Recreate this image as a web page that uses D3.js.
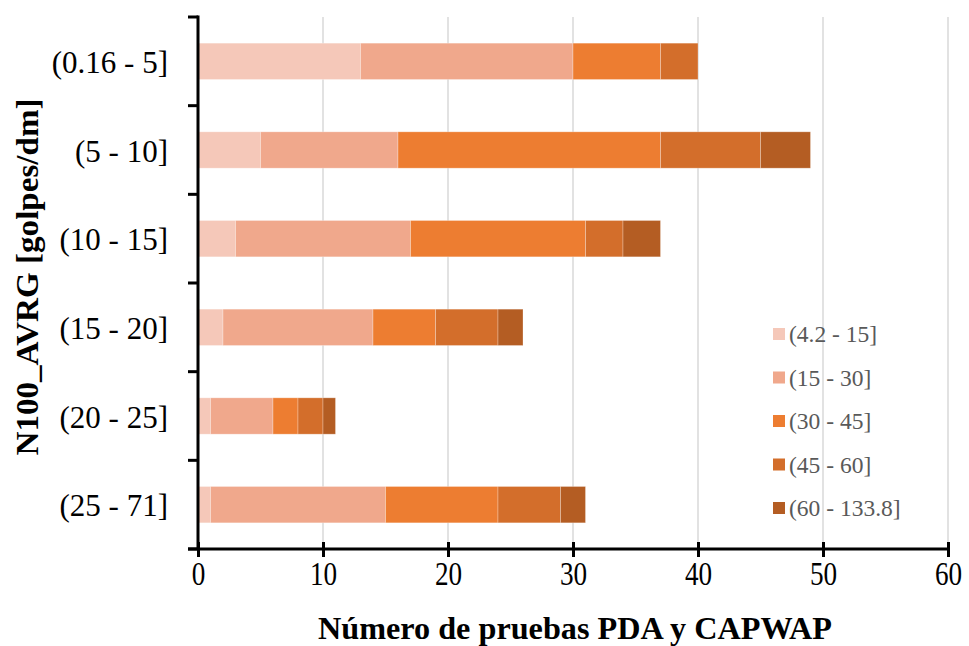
<!DOCTYPE html>
<html>
<head>
<meta charset="utf-8">
<script src="https://cdn.jsdelivr.net/npm/d3@7"></script>
<style>
  html, body { margin: 0; padding: 0; background: #fff; }
  svg { display: block; }
</style>
</head>
<body>
<svg id="chart" width="969" height="646"></svg>
<script>
// N100_AVRG ranges (rows, top to bottom)
const categories = ["(0.16 - 5]", "(5 - 10]", "(10 - 15]", "(15 - 20]", "(20 - 25]", "(25 - 71]"];
// Stacked series (legend ranges) and their counts per row
const seriesNames = ["(4.2 - 15]", "(15 - 30]", "(30 - 45]", "(45 - 60]", "(60 - 133.8]"];
const s1 = [13, 5, 3, 2, 1, 1];
const s2 = [17, 11, 14, 12, 5, 14];
const s3 = [7, 21, 14, 5, 2, 9];
const s4 = [3, 8, 3, 5, 2, 5];
const s5 = [0, 4, 3, 2, 1, 2];
const xTicks = [0, 10, 20, 30, 40, 50, 60];
const colors = ["#F5C8B9", "#F0A88C", "#ED7D31", "#D36E2B", "#B45D23"];

const rows = categories.map((c, i) => ({
  cat: c, s0: s1[i], s1: s2[i], s2: s3[i], s3: s4[i], s4: s5[i]
}));
const keys = ["s0", "s1", "s2", "s3", "s4"];

const svg = d3.select("#chart");
const plot = { left: 198, right: 948, top: 17, bottom: 549 };
const serif = "'Liberation Serif', 'Times New Roman', serif";

const x = d3.scaleLinear().domain([0, 60]).range([plot.left, plot.right]);
const y = d3.scaleBand().domain(categories).range([plot.top, plot.bottom]).paddingInner(0.59).paddingOuter(0.295);

// vertical gridlines
svg.append("g").selectAll("line").data(xTicks.slice(1)).join("line")
  .attr("x1", d => x(d)).attr("x2", d => x(d))
  .attr("y1", plot.top).attr("y2", plot.bottom)
  .attr("stroke", "#d9d9d9").attr("stroke-width", 1.5);

// stacked bars
const stack = d3.stack().keys(keys)(rows);
svg.append("g").selectAll("g").data(stack).join("g")
  .attr("fill", (d, i) => colors[i])
  .selectAll("rect").data(d => d).join("rect")
  .attr("x", d => x(d[0]))
  .attr("width", d => x(d[1]) - x(d[0]))
  .attr("y", d => y(d.data.cat))
  .attr("height", y.bandwidth())
  .attr("stroke", "rgba(255,255,255,0.35)")
  .attr("stroke-width", 0.8);

// y axis: line with boundary ticks to the left
const yAxisG = svg.append("g");
yAxisG.append("line")
  .attr("x1", plot.left).attr("x2", plot.left)
  .attr("y1", plot.top - 1.5).attr("y2", plot.bottom)
  .attr("stroke", "#000").attr("stroke-width", 3);
const step = (plot.bottom - plot.top) / categories.length;
yAxisG.selectAll("line.tk").data(d3.range(categories.length + 1)).join("line")
  .attr("class", "tk")
  .attr("x1", plot.left - 10).attr("x2", plot.left)
  .attr("y1", i => plot.top + i * step).attr("y2", i => plot.top + i * step)
  .attr("stroke", "#000").attr("stroke-width", 3);
yAxisG.selectAll("text").data(categories).join("text")
  .attr("x", 168)
  .attr("y", d => y(d) + y.bandwidth() / 2)
  .attr("dy", "0.38em")
  .attr("text-anchor", "end")
  .attr("font-family", serif)
  .attr("font-size", 31)
  .attr("fill", "#000")
  .text(d => d);

// x axis
const xAxis = d3.axisBottom(x).tickValues(xTicks).tickSize(8).tickSizeOuter(0).tickPadding(8);
const xAxisG = svg.append("g").attr("transform", `translate(0,${plot.bottom})`).call(xAxis);
xAxisG.select(".domain").attr("stroke", "#000").attr("stroke-width", 3)
  .attr("d", `M${plot.left - 10},0H${plot.right + 1.5}`);
xAxisG.selectAll(".tick line").attr("stroke", "#000").attr("stroke-width", 3).attr("y1", -7);
xAxisG.selectAll(".tick text")
  .attr("font-family", serif)
  .attr("font-size", 34)
  .attr("fill", "#000")
  .attr("y", 12)
  .attr("dy", "0.71em")
  .attr("transform", "scale(0.8,1)");

// axis titles
svg.append("text")
  .attr("x", 575).attr("y", 639)
  .attr("text-anchor", "middle")
  .attr("font-family", serif)
  .attr("font-weight", "bold")
  .attr("font-size", 32)
  .attr("textLength", 514).attr("lengthAdjust", "spacingAndGlyphs")
  .text("Número de pruebas PDA y CAPWAP");

svg.append("text")
  .attr("transform", "translate(38,277) rotate(-90)")
  .attr("text-anchor", "middle")
  .attr("font-family", serif)
  .attr("font-weight", "bold")
  .attr("font-size", 32)
  .attr("textLength", 357).attr("lengthAdjust", "spacingAndGlyphs")
  .text("N100_AVRG [golpes/dm]");

// legend
const legend = svg.append("g").attr("transform", "translate(773,334)");
const li = legend.selectAll("g").data(seriesNames).join("g")
  .attr("transform", (d, i) => `translate(0,${i * 43.5})`);
li.append("rect").attr("x", 0).attr("y", -6).attr("width", 12).attr("height", 12)
  .attr("fill", (d, i) => colors[i]);
li.append("text").attr("x", 16).attr("y", 0).attr("dy", "0.35em")
  .attr("font-family", serif)
  .attr("font-size", 23.5)
  .attr("fill", "#595959")
  .text(d => d);
</script>
</body>
</html>
